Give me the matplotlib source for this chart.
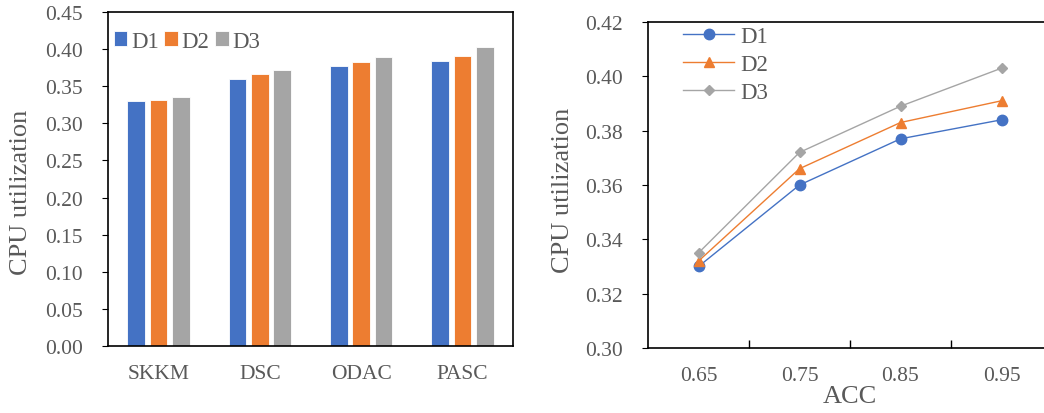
import matplotlib.pyplot as plt
import numpy as np

# data
methods = ['SKKM', 'DSC', 'ODAC', 'PASC']
acc = ['0.65', '0.75', '0.85', '0.95']
d1 = [0.330, 0.360, 0.377, 0.384]
d2 = [0.332, 0.366, 0.383, 0.391]
d3 = [0.335, 0.372, 0.389, 0.403]
series = ['D1', 'D2', 'D3']
colors = ['#4472C4', '#ED7D31', '#A5A5A5']

plt.rcParams['font.family'] = ['Liberation Serif', 'DejaVu Serif']
txt = '#595959'

fig = plt.figure(figsize=(10.44, 4.14), dpi=100)

# ---- bar chart
ax1 = fig.add_axes([108/1044, 1-347/414, 405/1044, 334/414])
x = np.arange(len(methods))
w = 0.175
step = 0.222
for i, (vals, name) in enumerate(zip([d1, d2, d3], series)):
    ax1.bar(x + (i-1)*step, vals, w, color=colors[i], label=name,
            edgecolor='white', linewidth=0.6)
ax1.set_xlim(-0.5, 3.5)
ax1.set_ylim(0, 0.45)
ax1.set_yticks(np.arange(0, 0.451, 0.05))
ax1.set_yticklabels([f'{v:.2f}' for v in np.arange(0, 0.451, 0.05)])
ax1.set_xticks(x)
ax1.set_xticklabels(methods)
ax1.tick_params(axis='x', length=0, pad=13)
ax1.tick_params(axis='y', direction='out', length=4, pad=14)
ax1.tick_params(labelsize=15.5, labelcolor=txt)
ax1.set_ylabel('CPU utilization', fontsize=19, color=txt)
ax1.yaxis.set_label_coords(-0.188, 0.464)
for s in ax1.spines.values():
    s.set_linewidth(1.2)
ax1.legend(loc='upper left', ncol=3, frameon=False, fontsize=16.5,
           handlelength=0.6, handleheight=0.6, handletextpad=0.15,
           columnspacing=0.25, borderaxespad=0.2, labelcolor=txt,
           bbox_to_anchor=(-0.02, 0.985))

# ---- line chart
ax2 = fig.add_axes([648/1044, 1-349/414, 404/1044, 326/414])
xi = np.arange(len(acc))
ax2.plot(xi, d1, color=colors[0], marker='o', markersize=7.5, linewidth=1, label='D1')
ax2.plot(xi, d2, color=colors[1], marker='^', markersize=7.5, linewidth=1, label='D2')
ax2.plot(xi, d3, color=colors[2], marker='D', markersize=5, linewidth=1, label='D3')
ax2.set_xlim(-0.5, 3.5)
ax2.set_ylim(0.30, 0.42)
ax2.set_yticks(np.arange(0.30, 0.4201, 0.02))
ax2.set_yticklabels([f'{v:.2f}' for v in np.arange(0.30, 0.4201, 0.02)])
ax2.set_xticks(xi)
ax2.set_xticklabels(acc)
ax2.set_xticks([0.5, 1.5, 2.5], minor=True)
ax2.tick_params(axis='x', which='major', length=0, pad=13)
ax2.tick_params(axis='x', which='minor', direction='in', length=6, width=1)
ax2.tick_params(axis='y', direction='out', length=4, pad=14)
ax2.tick_params(labelsize=15.5, labelcolor=txt)
ax2.set_ylabel('CPU utilization', fontsize=19, color=txt)
ax2.yaxis.set_label_coords(-0.183, 0.488)
ax2.set_xlabel('ACC', fontsize=19, color=txt, labelpad=0)
for s in ax2.spines.values():
    s.set_linewidth(1.2)
ax2.legend(loc='upper left', frameon=False, fontsize=16.5, handlelength=2.2,
           labelspacing=0.3, handletextpad=0.3, labelcolor=txt,
           borderaxespad=0.0, bbox_to_anchor=(0.065, 1.015))

fig.savefig('out.png', dpi=100)
